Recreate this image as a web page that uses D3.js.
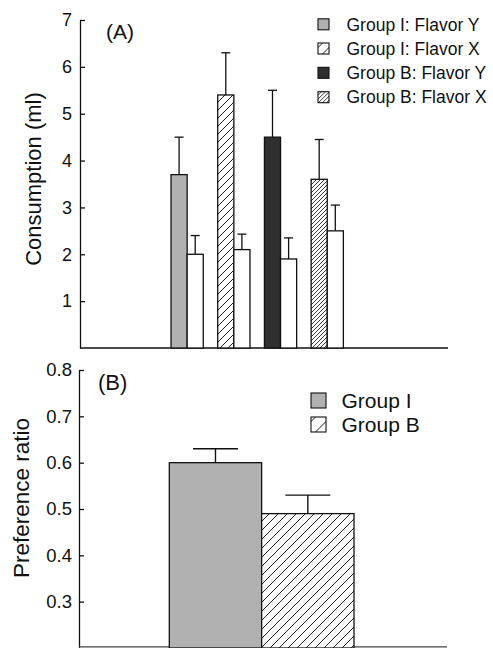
<!DOCTYPE html>
<html>
<head>
<meta charset="utf-8">
<script src="https://cdn.jsdelivr.net/npm/d3@7"></script>
<style>
  html, body { margin: 0; padding: 0; background: #fff; }
  svg { display: block; }
  text { font-family: "Liberation Sans", Arial, Helvetica, sans-serif; fill: #111; }
</style>
</head>
<body>
<svg id="chart" width="493" height="648"></svg>
<script>
// ---- Panel A: consumption (ml) ----
const pairLabels = ["Group I: Flavor Y", "Group I: Flavor X", "Group B: Flavor Y", "Group B: Flavor X"];
const flavorMeans = [3.7, 5.4, 4.5, 3.6];
const flavorSem = [0.8, 0.9, 1.0, 0.85];
const otherMeans = [2.0, 2.1, 1.9, 2.5];
const otherSem = [0.4, 0.33, 0.45, 0.55];
const consumptionTicks = [1, 2, 3, 4, 5, 6, 7];

// ---- Panel B: preference ratio ----
const groups = ["Group I", "Group B"];
const prefMeans = [0.60, 0.49];
const prefSem = [0.03, 0.04];
const prefTicks = [0.3, 0.4, 0.5, 0.6, 0.7, 0.8];

const svg = d3.select("#chart");
const defs = svg.append("defs");

// diagonal "/" hatch with horizontal period p
function hatch(id, p, x0, y0, width) {
  const pat = defs.append("pattern")
    .attr("id", id)
    .attr("patternUnits", "userSpaceOnUse")
    .attr("width", p).attr("height", p)
    .attr("x", x0 || 0).attr("y", y0 || 0);
  pat.append("rect").attr("width", p).attr("height", p).attr("fill", "#fff");
  pat.append("path")
    .attr("d", `M${-p / 2},${p / 2} L${p / 2},${-p / 2} M0,${p} L${p},0 M${p / 2},${p * 1.5} L${p * 1.5},${p / 2}`)
    .attr("stroke", "#222").attr("stroke-width", width || 1);
}
hatch("hatchSparse", 8);
hatch("hatchDense", 4, 0, 0, 0.9);
hatch("hatchWide", 9);

const styles = [
  { fill: "#b1b1b1" },
  { fill: "url(#hatchSparse)" },
  { fill: "#2f2f2f" },
  { fill: "url(#hatchDense)" }
];

// ===================== Panel A =====================
const yA = d3.scaleLinear().domain([0, 7]).range([348, 20]);
const xA = d3.scaleBand().domain(pairLabels).range([163.8, 350.6])
  .paddingInner(0.31).paddingOuter(0.155);
const xInner = d3.scaleBand().domain(["flavor", "other"]).range([0, xA.bandwidth()]);

const gA = svg.append("g");

// y axis with inward ticks
gA.append("g")
  .attr("transform", "translate(80,0)")
  .call(d3.axisLeft(yA).tickValues(consumptionTicks).tickFormat(d3.format("d"))
    .tickSizeInner(-5).tickSizeOuter(0).tickPadding(8))
  .call(g => {
    g.select(".domain").attr("stroke", "#111").attr("stroke-width", 1.3);
    g.selectAll(".tick line").attr("stroke", "#111").attr("stroke-width", 1.3);
    g.selectAll(".tick text").attr("font-size", 18).attr("fill", "#111")
      .attr("font-family", '"Liberation Sans", Arial, sans-serif');
  });

// baseline
gA.append("line")
  .attr("x1", 80).attr("x2", 448)
  .attr("y1", yA(0)).attr("y2", yA(0))
  .attr("stroke", "#111").attr("stroke-width", 1.3);

const barsA = pairLabels.map((lab, i) => [
  { key: lab, part: "flavor", mean: flavorMeans[i], sem: flavorSem[i], fill: styles[i].fill },
  { key: lab, part: "other", mean: otherMeans[i], sem: otherSem[i], fill: "#fff" }
]).flat();

// error bars first so bars sit over their lower end
const errA = gA.selectAll("g.errA").data(barsA).join("g").attr("class", "errA");
errA.each(function (d) {
  const cx = xA(d.key) + xInner(d.part) + xInner.bandwidth() / 2;
  const g = d3.select(this);
  g.append("line").attr("x1", cx).attr("x2", cx)
    .attr("y1", yA(d.mean)).attr("y2", yA(d.mean + d.sem))
    .attr("stroke", "#111").attr("stroke-width", 1.3);
  g.append("line").attr("x1", cx - 4.5).attr("x2", cx + 4.5)
    .attr("y1", yA(d.mean + d.sem)).attr("y2", yA(d.mean + d.sem))
    .attr("stroke", "#111").attr("stroke-width", 1.3);
});

gA.selectAll("rect.barA").data(barsA).join("rect")
  .attr("class", "barA")
  .attr("x", d => xA(d.key) + xInner(d.part))
  .attr("width", xInner.bandwidth())
  .attr("y", d => yA(d.mean))
  .attr("height", d => yA(0) - yA(d.mean))
  .attr("fill", d => d.fill)
  .attr("stroke", "#111").attr("stroke-width", 1.3);

// panel tag
gA.append("text").attr("x", 106).attr("y", 38.5).attr("font-size", 21).text("(A)");

// y label
gA.append("text")
  .attr("transform", "translate(41,179) rotate(-90)")
  .attr("text-anchor", "middle").attr("font-size", 22)
  .text("Consumption (ml)");

// legend A
const legendRowsA = [24.3, 48.5, 72.8, 97.2];
const legA = gA.selectAll("g.legA").data(pairLabels).join("g").attr("class", "legA")
  .attr("transform", (d, i) => `translate(0,${legendRowsA[i]})`);
pairLabels.forEach((lab, i) => {
  if (i === 1) hatch("legSparse", 11, 318, legendRowsA[i] - 5.5);
});
legA.append("rect")
  .attr("x", 318).attr("y", -5.5).attr("width", 11).attr("height", 11)
  .attr("fill", (d, i) => i === 1 ? "url(#legSparse)" : styles[i].fill)
  .attr("stroke", "#111").attr("stroke-width", 1.1);
legA.append("text")
  .attr("x", 346.5).attr("y", 6.2).attr("font-size", 17.5)
  .text(d => d);

// ===================== Panel B =====================
const yB = d3.scaleLinear().domain([0.2, 0.8]).range([648, 370]);
const xB = d3.scaleBand().domain(groups).range([169.3, 354]).padding(0);
const gB = svg.append("g");

gB.append("g")
  .attr("transform", "translate(79,0)")
  .call(d3.axisLeft(yB).tickValues(prefTicks).tickFormat(d3.format(".1f"))
    .tickSizeInner(-5).tickSizeOuter(0).tickPadding(7))
  .call(g => {
    g.select(".domain").attr("stroke", "#111").attr("stroke-width", 1.3);
    g.selectAll(".tick line").attr("stroke", "#111").attr("stroke-width", 1.3);
    g.selectAll(".tick text").attr("font-size", 18.5).attr("fill", "#111")
      .attr("font-family", '"Liberation Sans", Arial, sans-serif');
  });

gB.append("line")
  .attr("x1", 79).attr("x2", 447)
  .attr("y1", 646.8).attr("y2", 646.8)
  .attr("stroke", "#444").attr("stroke-width", 1.2);

const prefFills = ["#b1b1b1", "url(#hatchWide)"];

groups.forEach((g, i) => {
  const cx = xB(g) + xB.bandwidth() / 2;
  gB.append("line").attr("x1", cx).attr("x2", cx)
    .attr("y1", yB(prefMeans[i])).attr("y2", yB(prefMeans[i] + prefSem[i]))
    .attr("stroke", "#111").attr("stroke-width", 1.4);
  gB.append("line").attr("x1", cx - 22.5).attr("x2", cx + 22.5)
    .attr("y1", yB(prefMeans[i] + prefSem[i])).attr("y2", yB(prefMeans[i] + prefSem[i]))
    .attr("stroke", "#111").attr("stroke-width", 1.4);
});

gB.selectAll("rect.barB").data(groups).join("rect")
  .attr("class", "barB")
  .attr("x", d => xB(d))
  .attr("width", xB.bandwidth())
  .attr("y", (d, i) => yB(prefMeans[i]))
  .attr("height", (d, i) => yB(0.2) - yB(prefMeans[i]))
  .attr("fill", (d, i) => prefFills[i])
  .attr("stroke", "#111").attr("stroke-width", 1.3);

gB.append("text").attr("x", 98).attr("y", 390).attr("font-size", 22).text("(B)");

gB.append("text")
  .attr("transform", "translate(29,498) rotate(-90)")
  .attr("text-anchor", "middle").attr("font-size", 22.5)
  .text("Preference ratio");

// legend B
const legendRowsB = [400.5, 424.5];
hatch("legWide", 15, 311, legendRowsB[1] - 7.5);
const legB = gB.selectAll("g.legB").data(groups).join("g").attr("class", "legB")
  .attr("transform", (d, i) => `translate(0,${legendRowsB[i]})`);
legB.append("rect")
  .attr("x", 311).attr("y", -7.5).attr("width", 15).attr("height", 15)
  .attr("fill", (d, i) => i === 0 ? "#b1b1b1" : "url(#legWide)")
  .attr("stroke", "#111").attr("stroke-width", 1.1);
legB.append("text")
  .attr("x", 341.5).attr("y", 7.5).attr("font-size", 21)
  .text(d => d);
</script>
</body>
</html>
